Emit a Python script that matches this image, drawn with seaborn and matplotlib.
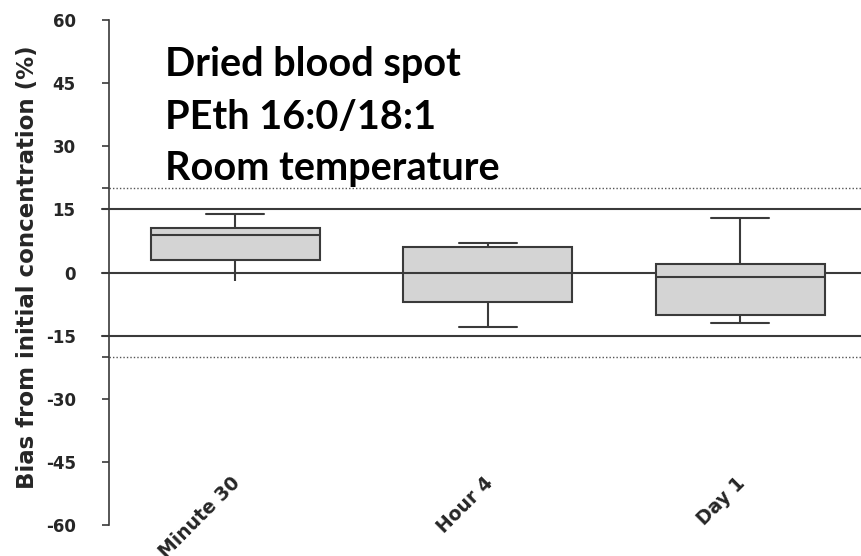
import numpy as np
import pandas as pd
import matplotlib
matplotlib.use("Agg")
import matplotlib.pyplot as plt
from matplotlib.transforms import ScaledTranslation
import seaborn as sns

# Bias from initial concentration (%) per storage time: min, Q1, median, Q3, max
categories = ["Minute 30", "Hour 4", "Day 1"]
minute_30 = [-2, 3, 9, 10.5, 14]
hour_4 = [-13, -7, 0, 6, 7]
day_1 = [-12, -10, -1, 2, 13]
y_ticks = [-60, -45, -30, -15, 0, 15, 30, 45, 60]
limits_solid = [-15, 0, 15]
limits_dotted = [-20, 20]
title_lines = ["Dried blood spot", "PEth 16:0/18:1", "Room temperature"]

df = pd.DataFrame({
    "time": np.repeat(categories, 5),
    "bias": minute_30 + hour_4 + day_1,
})

sns.set_style("white")
plt.rcParams["font.family"] = ["DejaVu Sans"]

W, H = 862, 556
fig = plt.figure(figsize=(W / 100, H / 100), dpi=100)
ax = fig.add_axes([109 / W, (H - 525) / H, 757.5 / W, 505 / H])

dark = "#3a3a3a"
box_w = 0.67
sns.boxplot(data=df, x="time", y="bias", order=categories, ax=ax,
            width=box_w, color="#d4d4d4", saturation=1, linecolor=dark,
            linewidth=1.5, whis=np.inf, zorder=3)

# shorter whisker caps
cap_half = 0.115
for line in ax.lines:
    xd = np.asarray(line.get_xdata(), float)
    yd = np.asarray(line.get_ydata(), float)
    if len(xd) == 2 and yd[0] == yd[1] and abs(abs(xd[1] - xd[0]) - box_w / 2) < 0.02:
        c = xd.mean()
        line.set_xdata([c - cap_half, c + cap_half])
        if round(c) == 0 and yd[0] == min(minute_30):
            line.set_visible(False)

# acceptance limits
for y in limits_solid:
    ax.axhline(y, xmin=-0.009, xmax=1, color=dark, lw=1.5, zorder=1, clip_on=False)
for y in limits_dotted:
    ax.axhline(y, xmin=0, xmax=1, color="#555555", lw=1.0, ls=(0, (1, 1.5)), zorder=1)

ax.set_xlim(-0.5, 2.5)
ax.set_ylim(-60, 60)
ax.set_yticks(y_ticks)
ax.set_yticks(limits_dotted, minor=True)
ax.set_yticklabels([str(t) for t in y_ticks], fontsize=12, fontweight="bold")
ax.tick_params(axis="y", which="both", direction="out", length=5, width=1.2,
               color=dark, pad=19, left=True)

for s in ["top", "right", "bottom"]:
    ax.spines[s].set_visible(False)
ax.spines["left"].set_color(dark)
ax.spines["left"].set_linewidth(1.2)

ax.set_xticks(range(len(categories)))
ax.set_xticklabels(categories, rotation=45, ha="right", va="center",
                   rotation_mode="anchor", fontsize=13.5, fontweight="bold")
ax.tick_params(axis="x", length=0, pad=0)
offset = ScaledTranslation(2 / 100, 45 / 100, fig.dpi_scale_trans)
for lbl in ax.get_xticklabels():
    lbl.set_transform(lbl.get_transform() + offset)

ax.set_xlabel("")
ax.set_ylabel("Bias from initial concentration (%)", fontsize=16.5, fontweight="bold")
ax.yaxis.set_label_coords(-0.093, 0.51)

baselines = [0.889, 0.784, 0.683]
for txt, yb in zip(title_lines, baselines):
    ax.text(0.074, yb, txt, transform=ax.transAxes, ha="left", va="baseline",
            fontsize=28.5, fontweight="bold", family=["Lato", "DejaVu Sans"],
            color="black")

fig.savefig("out.png", dpi=100)
